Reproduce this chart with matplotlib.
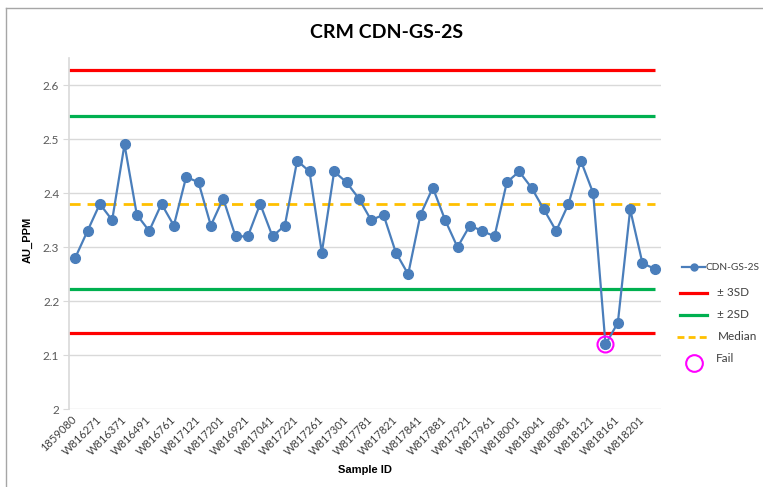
import numpy as np
import matplotlib
matplotlib.use("Agg")
import matplotlib.pyplot as plt
from matplotlib.lines import Line2D

plt.rcParams['font.family'] = ['Lato', 'DejaVu Sans']

# sample ids shown on the axis (every second sample is labelled)
tick_labels = ['1859080', 'W816271', 'W816371', 'W816491', 'W816761', 'W817121',
               'W817201', 'W816921', 'W817041', 'W817221', 'W817261', 'W817301',
               'W817781', 'W817821', 'W817841', 'W817881', 'W817921', 'W817961',
               'W818001', 'W818041', 'W818081', 'W818121', 'W818161', 'W818201']

au_ppm = [2.28, 2.33, 2.38, 2.35, 2.49, 2.36, 2.33, 2.38, 2.34, 2.43, 2.42, 2.34,
          2.39, 2.32, 2.32, 2.38, 2.32, 2.34, 2.46, 2.44, 2.29, 2.44, 2.42, 2.39,
          2.35, 2.36, 2.29, 2.25, 2.36, 2.41, 2.35, 2.30, 2.34, 2.33, 2.32, 2.42,
          2.44, 2.41, 2.37, 2.33, 2.38, 2.46, 2.40, 2.12, 2.16, 2.37, 2.27, 2.26]

upper_3sd = 2.628
upper_2sd = 2.542
median = 2.379
lower_2sd = 2.222
lower_3sd = 2.141

fail_idx = [43]

x = np.arange(len(au_ppm))
y = np.array(au_ppm)

W, H = 763, 487
fig = plt.figure(figsize=(W/100, H/100), dpi=100)
ax = fig.add_axes([69/W, 1-409.3/H, 592/W, (409.3-58)/H])

ax.set_xlim(-0.5, len(au_ppm) - 0.5)
ax.set_ylim(2.0, 2.65)

ax.set_yticks(np.arange(2.0, 2.61, 0.1))
ax.set_yticklabels(['2', '2.1', '2.2', '2.3', '2.4', '2.5', '2.6'])
ax.yaxis.grid(True, color='#d9d9d9', lw=1)
ax.set_axisbelow(True)

for s in ['top', 'right', 'bottom']:
    ax.spines[s].set_visible(False)
ax.spines['left'].set_color('#d9d9d9')
ax.spines['left'].set_linewidth(1.2)
ax.tick_params(axis='y', colors='#d9d9d9', labelcolor='#595959', length=4,
               labelsize=8.5, pad=3)

ax.set_xticks(x[::2])
ax.set_xticklabels(tick_labels, rotation=45, ha='right', va='center',
                   rotation_mode='anchor', fontsize=8, color='#404040')
ax.tick_params(axis='x', length=0, pad=6)

x0, x1 = -0.5, len(au_ppm) - 1 + 0.05
ax.hlines([upper_3sd, lower_3sd], x0, x1, color='#ff0000', lw=2.3, zorder=2)
ax.hlines([upper_2sd, lower_2sd], x0, x1, color='#00b050', lw=2.3, zorder=2)
ax.hlines(median, x0, x1, color='#ffc000', lw=2, linestyles=(0, (4, 2.5)), zorder=2)

ax.plot(x, y, color='#4a7ebb', lw=1.6, marker='o', ms=7, zorder=3)
ax.plot(x[fail_idx], y[fail_idx], ls='none', marker='o', ms=11.5, mfc='none',
        mec='#ff00ff', mew=1.5, zorder=4)

ax.set_xlabel('Sample ID', fontsize=8, fontweight='bold', family='Liberation Sans')
ax.xaxis.set_label_coords(0.5, -(465-409.3)/(409.3-58))
ax.set_ylabel('AU_PPM', fontsize=8, fontweight='bold', family='Liberation Sans')
ax.yaxis.set_label_coords(-(69-33)/592, 0.482)

fig.text(387/W, 1-32/H, 'CRM CDN-GS-2S', ha='center', va='center',
         fontsize=14, fontweight='bold')

# legend drawn by hand so the entries sit where the reference puts them
def fx(px):
    return px / W

def fy(py):
    return 1 - py / H

def leg_line(xa, xb, yy, **kw):
    fig.add_artist(Line2D([fx(xa), fx(xb)], [fy(yy), fy(yy)], **kw))

leg_line(682, 705, 267, color='#4a7ebb', lw=1.6)
fig.add_artist(Line2D([fx(693.5)], [fy(267)], ls='none', marker='o', ms=5, color='#4a7ebb'))
fig.text(fx(706), fy(267), 'CDN-GS-2S', fontsize=7.3, color='#404040', va='center')

leg_line(680, 707, 293, color='#ff0000', lw=2.3)
fig.text(fx(717), fy(292), '\u00b1 3SD', fontsize=8.5, color='#404040', va='center')

leg_line(680, 707, 315, color='#00b050', lw=2.3)
fig.text(fx(717), fy(314), '\u00b1 2SD', fontsize=8.5, color='#404040', va='center')

leg_line(677, 709, 337, color='#ffc000', lw=2, ls=(0, (2.5, 1.5)))
fig.text(fx(718), fy(336), 'Median', fontsize=8.5, color='#404040', va='center')

fig.add_artist(Line2D([fx(694)], [fy(363)], ls='none', marker='o', ms=12, mfc='none',
                      mec='#ff00ff', mew=1.5))
fig.text(fx(716), fy(358), 'Fail', fontsize=8.5, color='#404040', va='center')

# outer chart frame (top and left edges visible)
fig.add_artist(Line2D([fx(6), 1], [fy(8), fy(8)], color='#a6a6a6', lw=1))
fig.add_artist(Line2D([fx(6), fx(6)], [0, fy(8)], color='#a6a6a6', lw=1))

fig.savefig('out.png', dpi=100)
